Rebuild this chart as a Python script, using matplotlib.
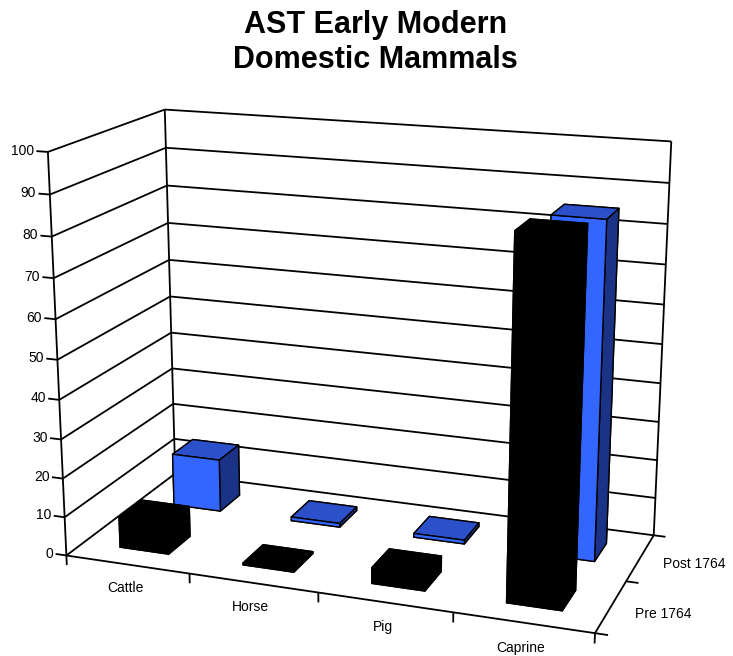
import numpy as np
import matplotlib
matplotlib.use('Agg')
import matplotlib.pyplot as plt
from mpl_toolkits.mplot3d.art3d import Line3DCollection

plt.rcParams['font.family'] = ['Liberation Sans', 'DejaVu Sans']

# data
categories = ['Cattle', 'Horse', 'Pig', 'Caprine']
series = ['Pre 1764', 'Post 1764']
pre_1764 = [8, 0.5, 4, 88]
post_1764 = [14, 1, 1, 85]
z_ticks = list(range(0, 101, 10))

BLUE_FRONT = '#3366FF'
BLUE_TOP = '#2C50C9'
BLUE_SIDE = '#1B3386'

fig = plt.figure(figsize=(7.33, 6.56), dpi=100)
ax = fig.add_axes([-0.014, 0.022, 1.0, 0.86], projection='3d', computed_zorder=False)
ax.set_proj_type('persp', focal_length=0.65)
ax.view_init(elev=16.5, azim=-70)
ax.set_box_aspect((4.1, 1.93, 3.1), zoom=1.266)
ax.set_xlim(0, 4)
ax.set_ylim(0, 2)
ax.set_zlim(0, 100)
ax.set_axis_off()

nx = len(categories)
ny = len(series)

# wall gridlines, wall edges, floor axes and tick marks
segs = []
for z in z_ticks:
    segs.append([(0, 0, z), (0, ny, z)])
    segs.append([(0, ny, z), (nx, ny, z)])
    segs.append([(-0.09, 0, z), (0, 0, z)])
segs.append([(0, 0, 0), (0, 0, 100)])
segs.append([(0, ny, 0), (0, ny, 100)])
segs.append([(nx, ny, 0), (nx, ny, 100)])
segs.append([(0, 0, 0), (nx, 0, 0)])
segs.append([(nx, 0, 0), (nx, ny, 0)])
for i in range(nx + 1):
    segs.append([(i, 0, 0), (i, 0, -2.5)])
for j in range(ny + 1):
    segs.append([(nx, j, 0), (nx + 0.09, j, 0)])
frame = Line3DCollection(segs, colors='black', linewidths=1.3, zorder=1)
ax.add_collection3d(frame)
frame.set_clip_on(False)

# bars
w, d = 0.4, 0.4
xs, ys, dz, cols = [], [], [], []
for j, vals in enumerate([pre_1764, post_1764]):
    for i, v in enumerate(vals):
        xs.append(i + 0.5 - w / 2)
        ys.append(j + 0.5 - d / 2)
        dz.append(v)
        if j == 0:
            cols += ['black'] * 6
        else:
            # face order: -z, +z, -y, +y, -x, +x
            cols += [BLUE_SIDE, BLUE_TOP, BLUE_FRONT, BLUE_SIDE, BLUE_SIDE, BLUE_SIDE]

bars = ax.bar3d(xs, ys, np.zeros(len(xs)), w, d, dz, color=cols, shade=False,
                edgecolor='black', linewidth=1.0, zorder=2)
bars.set_clip_on(False)

# labels
for z in z_ticks:
    ax.text(-0.11, 0, z, str(z), ha='right', va='center', fontsize=10)
for i, name in enumerate(categories):
    ax.text(i + 0.5, -0.05, -5.5, name, ha='center', va='center', fontsize=10)
for j, name in enumerate(series):
    ax.text(nx + 0.17, j + 0.5, -1, name, ha='left', va='center', fontsize=10)

fig.text(0.512, 0.935, 'AST Early Modern\nDomestic Mammals', ha='center', va='center',
         fontsize=22, fontweight='bold', linespacing=1.2)

fig.savefig('out.png', dpi=100)
